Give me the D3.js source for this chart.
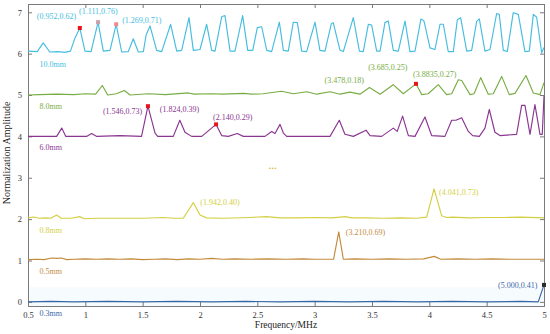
<!DOCTYPE html>
<html>
<head>
<meta charset="utf-8">
<script src="https://cdn.jsdelivr.net/npm/d3@7"></script>
<style>
  body { margin: 0; background: #fff; }
  text { font-family: "Liberation Serif", "Times New Roman", serif; }
</style>
</head>
<body>
<div id="chart"></div>
<script>
// series: [frequency MHz, normalized amplitude], drawn at offset
const names = ["0.3mm", "0.5mm", "0.8mm", "6.0mm", "8.0mm", "10.0mm"]
const offsets = [0, 1, 2, 4, 5, 6]
const colors = ["#3566a8", "#c48a3c", "#d4cf42", "#8a3691", "#78ad44", "#45bde0"]

const s03 = [[0.5,0.0],[0.7,0.01],[0.9,0.0],[1.2,0.01],[1.5,0.0],[1.8,0.01],[2.1,0.0],[2.4,0.01],[2.7,0.0],[3.0,0.01],[3.3,0.0],[3.6,0.01],[3.9,0.0],[4.2,0.01],[4.5,0.0],[4.8,0.01],[4.95,0.0],[5.0,0.41]]
const s05 = [[0.5,0.02],[0.58,0.03],[0.64,0.02],[0.707,0.06],[0.75,0.05],[0.79,0.06],[0.84,0.02],[0.9,0.03],[1.0,0.04],[1.1,0.03],[1.2,0.04],[1.3,0.03],[1.4,0.04],[1.5,0.02],[1.6,0.03],[1.7,0.04],[1.8,0.02],[1.9,0.04],[2.0,0.03],[2.1,0.05],[2.2,0.03],[2.3,0.04],[2.45,0.03],[2.6,0.04],[2.75,0.03],[2.9,0.04],[3.0,0.03],[3.1,0.03],[3.165,0.03],[3.21,0.69],[3.25,0.03],[3.35,0.04],[3.5,0.03],[3.65,0.04],[3.8,0.03],[3.95,0.04],[4.043,0.1],[4.1,0.03],[4.25,0.04],[4.4,0.03],[4.55,0.04],[4.7,0.03],[4.85,0.03],[5.0,0.03]]
const s08 = [[0.5,0.03],[0.55,0.05],[0.6,0.02],[0.65,0.03],[0.7,0.02],[0.75,0.1],[0.79,0.02],[0.88,0.02],[0.95,0.06],[0.99,0.01],[1.1,0.02],[1.3,0.02],[1.5,0.02],[1.68,0.04],[1.78,0.02],[1.854,0.02],[1.942,0.4],[2.0,0.1],[2.058,0.03],[2.2,0.02],[2.436,0.04],[2.58,0.06],[2.7,0.03],[2.85,0.03],[3.018,0.04],[3.15,0.03],[3.221,0.05],[3.27,0.06],[3.32,0.03],[3.45,0.03],[3.6,0.02],[3.75,0.03],[3.89,0.02],[3.977,0.05],[4.041,0.73],[4.108,0.08],[4.151,0.04],[4.2,0.05],[4.35,0.03],[4.5,0.04],[4.65,0.04],[4.8,0.05],[5.0,0.03]]
const s60 = [[0.5,0.0],[0.75,0.0],[0.794,0.2],[0.83,0.0],[1.01,0.0],[1.055,0.07],[1.1,0.0],[1.302,0.02],[1.49,0.0],[1.546,0.73],[1.608,0.08],[1.631,0.0],[1.767,0.0],[1.824,0.39],[1.869,0.1],[1.927,0.0],[2.015,0.0],[2.14,0.29],[2.189,0.02],[2.247,0.0],[2.325,0.07],[2.378,0.0],[2.567,0.0],[2.625,0.12],[2.654,0.07],[2.698,0.29],[2.727,0.08],[2.756,0.0],[3.134,0.0],[3.215,0.39],[3.264,0.05],[3.337,0.0],[3.448,0.15],[3.483,0.02],[3.584,0.0],[3.686,0.2],[3.72,0.12],[3.767,0.49],[3.817,0.02],[3.875,0.0],[3.962,0.47],[4.02,0.02],[4.136,0.0],[4.195,0.39],[4.232,0.39],[4.282,0.45],[4.34,0.12],[4.378,0.02],[4.436,0.0],[4.485,0.2],[4.523,0.65],[4.572,0.1],[4.616,0.02],[4.761,0.05],[4.805,0.75],[4.834,0.75],[4.878,0.05],[4.921,0.77],[4.965,0.05],[4.985,0.05],[5.0,0.98]]
const s80 = [[0.5,0.0],[0.6,0.01],[0.75,0.02],[0.9,0.01],[1.0,0.03],[1.09,0.02],[1.148,0.23],[1.195,0.0],[1.27,0.03],[1.34,0.11],[1.39,0.0],[1.549,0.03],[1.7,0.01],[1.898,0.05],[1.95,0.02],[2.1,0.03],[2.2,0.02],[2.378,0.04],[2.45,0.02],[2.55,0.03],[2.712,0.09],[2.814,0.03],[2.93,0.08],[3.018,0.02],[3.134,0.08],[3.221,0.02],[3.308,0.07],[3.395,0.02],[3.478,0.18],[3.57,0.02],[3.685,0.25],[3.773,0.03],[3.8835,0.27],[3.933,0.01],[3.99,0.03],[4.078,0.25],[4.151,0.01],[4.195,0.03],[4.253,0.37],[4.282,0.35],[4.355,0.01],[4.39,0.03],[4.448,0.42],[4.514,0.02],[4.558,0.03],[4.631,0.45],[4.697,0.01],[4.747,0.04],[4.843,0.47],[4.907,0.05],[4.965,0.01],[5.0,0.3]]
const s100 = [[0.5,0.06],[0.58,0.05],[0.633,0.26],[0.69,0.04],[0.76,0.05],[0.82,0.03],[0.87,0.06],[0.91,0.38],[0.952,0.62],[0.997,0.06],[1.05,0.05],[1.111,0.76],[1.157,0.06],[1.215,0.08],[1.269,0.71],[1.317,0.04],[1.375,0.05],[1.418,0.36],[1.462,0.04],[1.506,0.05],[1.53,0.45],[1.564,0.67],[1.622,0.08],[1.666,0.05],[1.744,0.71],[1.797,0.06],[1.84,0.08],[1.904,0.87],[1.942,0.08],[2.0,0.1],[2.058,0.71],[2.102,0.08],[2.131,0.06],[2.189,0.89],[2.218,0.92],[2.262,0.06],[2.305,0.06],[2.372,0.92],[2.416,0.08],[2.46,0.08],[2.5,0.63],[2.538,0.65],[2.582,0.08],[2.625,0.05],[2.692,0.76],[2.727,0.08],[2.77,0.06],[2.814,0.76],[2.849,0.75],[2.887,0.06],[2.93,0.05],[3.003,0.76],[3.046,0.08],[3.09,0.06],[3.145,0.72],[3.162,0.75],[3.221,0.08],[3.25,0.05],[3.337,0.87],[3.39,0.06],[3.424,0.05],[3.468,0.71],[3.497,0.69],[3.541,0.06],[3.57,0.06],[3.613,0.75],[3.642,0.79],[3.686,0.08],[3.73,0.06],[3.788,0.79],[3.831,0.05],[3.875,0.06],[3.927,0.84],[3.953,0.79],[4.006,0.14],[4.049,0.1],[4.093,0.71],[4.122,0.71],[4.165,0.05],[4.209,0.05],[4.244,0.82],[4.273,0.87],[4.326,0.06],[4.369,0.08],[4.413,0.78],[4.436,0.84],[4.485,0.06],[4.529,0.1],[4.587,0.97],[4.61,0.95],[4.645,0.08],[4.68,0.05],[4.732,0.99],[4.776,0.95],[4.834,0.05],[4.872,0.06],[4.907,0.95],[4.936,0.88],[4.98,0.02],[5.0,0.15]]
const seriesData = [s03, s05, s08, s60, s80, s100]

// annotated peaks: series index, freq, amp, label dx/dy, marker colour (null = none)
const peaks = [
  [5, 0.952, 0.62, -43, -9, "#e8141c"],
  [5, 1.111, 0.76, -19, -8, "#c9a0a8"],
  [5, 1.269, 0.71, 6, -1, "#f08a8a"],
  [3, 1.546, 0.73, -45, 8, "#e8141c"],
  [3, 1.824, 0.39, -20, -8, null],
  [3, 2.140, 0.29, -3, -4, "#e8141c"],
  [4, 3.478, 0.18, -45, -5, null],
  [4, 3.685, 0.25, -25, -15, null],
  [4, 3.8835, 0.27, -3, -7, "#e8141c"],
  [2, 1.942, 0.40, 7, 2, null],
  [2, 4.041, 0.73, 5, 6, null],
  [1, 3.210, 0.69, 7, 3, null],
  [0, 5.000, 0.41, -46, 3, "#2b2b2b"]
]
const xTicks = [0.5, 1, 1.5, 2, 2.5, 3, 3.5, 4, 4.5, 5]
const yTicks = [0, 1, 2, 3, 4, 5, 6, 7]

const W = 550, H = 334
const m = { top: 4, right: 6, bottom: 28, left: 28 }

const svg = d3.select("#chart").append("svg")
    .attr("width", W).attr("height", H)

const x = d3.scaleLinear().domain([0.5, 5]).range([m.left, W - m.right])
const y = d3.scaleLinear().domain([-0.1, 7.2]).range([H - m.bottom, m.top])

// faint band at the bottom
svg.append("rect")
    .attr("x", x(0.5)).attr("y", y(0.35))
    .attr("width", x(5) - x(0.5)).attr("height", y(-0.1) - y(0.35))
    .attr("fill", "#f6fbfe")

const axisCol = "#7a7a7a"
const fmt = d => String(d)

const gx = svg.append("g").attr("transform", `translate(0,${y(-0.1)})`)
    .call(d3.axisBottom(x).tickValues(xTicks).tickFormat(fmt).tickSize(-4).tickPadding(6))
const gxt = svg.append("g").attr("transform", `translate(0,${y(7.2)})`)
    .call(d3.axisTop(x).tickValues(xTicks).tickFormat("").tickSize(-4))
const gy = svg.append("g").attr("transform", `translate(${x(0.5)},0)`)
    .call(d3.axisLeft(y).tickValues(yTicks).tickFormat(fmt).tickSize(-4).tickPadding(6))
const gyr = svg.append("g").attr("transform", `translate(${x(5)},0)`)
    .call(d3.axisRight(y).tickValues(yTicks).tickFormat("").tickSize(-4))

for (const g of [gx, gxt, gy, gyr]) {
  g.selectAll("path, line").attr("stroke", axisCol)
  g.select(".domain").attr("stroke-width", 1)
  g.selectAll("text").attr("fill", "#333").style("font-size", "8.5px")
    .style("font-family", "'Liberation Serif', serif")
}

svg.append("text")
    .attr("x", (x(0.5) + x(5)) / 2).attr("y", 328)
    .attr("text-anchor", "middle").style("font-size", "9.5px").attr("fill", "#222")
    .text("Frequency/MHz")
svg.append("text")
    .attr("transform", `translate(10,${y(3.6)}) rotate(-90)`)
    .attr("text-anchor", "middle").style("font-size", "10px").attr("fill", "#222")
    .text("Normalization Amplitude")

const line = d3.line()

seriesData.forEach((s, i) => {
  svg.append("path")
      .attr("d", line(s.map(d => [x(d[0]), y(d[1] + offsets[i])])))
      .attr("fill", "none")
      .attr("stroke", colors[i])
      .attr("stroke-width", 1.15)
      .attr("stroke-linejoin", "round")
  svg.append("text")
      .attr("x", x(0.6)).attr("y", y(offsets[i] - 0.33))
      .style("font-size", "8px").attr("fill", colors[i])
      .text(names[i])
})

svg.append("text")
    .attr("x", x(2.6)).attr("y", y(3.2))
    .style("font-size", "9px").style("font-weight", "bold").attr("fill", "#d8b430")
    .attr("letter-spacing", "0.5px")
    .text("...")

peaks.forEach(([si, f, a, dx, dy, mc]) => {
  const px = x(f), py = y(a + offsets[si])
  if (mc) {
    svg.append("rect")
        .attr("x", px - 2).attr("y", py - 2).attr("width", 4).attr("height", 4)
        .attr("fill", mc)
  }
  svg.append("text")
      .attr("x", px + dx).attr("y", py + dy)
      .style("font-size", "8px").attr("fill", colors[si])
      .text(`(${f.toFixed(f === 3.8835 ? 4 : 3)},${a.toFixed(2)})`)
})
</script>
</body>
</html>
